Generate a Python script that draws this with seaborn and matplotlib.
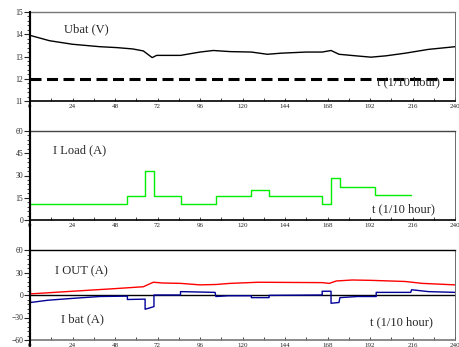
import matplotlib
matplotlib.use("Agg")
import matplotlib.pyplot as plt
from matplotlib.lines import Line2D
from matplotlib.ticker import MultipleLocator
import seaborn as sns
import pandas as pd

sns.set_style("ticks")
plt.rcParams['font.family'] = ['Liberation Serif', 'DejaVu Serif']

# ---- data ----
ubat_t = [0, 11, 24, 39.5, 49, 58, 64, 69, 71.5, 85, 96, 103.5, 113, 125, 134, 142,
          156, 165, 170, 174.5, 184, 192.5, 201, 212, 225, 240]
ubat_v = [13.95, 13.71, 13.55, 13.44, 13.40, 13.34, 13.25, 12.95, 13.05, 13.05, 13.2,
          13.27, 13.22, 13.2, 13.1, 13.15, 13.2, 13.2, 13.27, 13.1, 13.03, 12.97,
          13.03, 13.15, 13.32, 13.44]
ubat_min = 12

load_t = [0, 55, 65, 70, 85, 105, 125, 135, 165, 170, 175, 195, 215]
load_v = [11, 16, 33, 16, 11, 16, 20, 16, 11, 28, 22, 17, 17]

iout_t = [0, 0.3, 24, 48, 64, 69.6, 75, 85, 96, 105, 113, 129, 165, 169, 173, 182,
          193, 212, 221.5, 240]
iout_v = [20, 1.5, 5, 8.5, 11, 17, 16, 15.5, 13.5, 14, 15.5, 17, 16.5, 15.5, 18.7,
          20, 19.5, 18, 15.5, 13.5]

ibat_t = [0, 0.3, 10, 24, 39.5, 55, 55, 65, 65, 70, 70, 85, 85, 104.5, 105, 112, 125,
          125, 135, 135, 165, 165, 170, 170, 174.5, 175, 185, 195.5, 195.5, 215,
          215.5, 225, 240]
ibat_v = [0, -10, -7, -4.5, -2, -1.5, -6, -5.5, -19, -15.5, 0, 0, 4.5, 3.5, -2, -1,
          -1, -3.5, -3.5, -0.5, 0, 5, 5, -11, -10, -3.5, -2, -2, 3.5, 3.5, 7, 4.5, 3.5]

x_ticks = [0, 24, 48, 72, 96, 120, 144, 168, 192, 216, 240]

# ---- figure ----
W, H = 459, 347
fig = plt.figure(figsize=(W / 100, H / 100), dpi=100)

def axes_px(top, bottom, left=30, right=455):
    return fig.add_axes([left / W, 1 - bottom / H, (right - left) / W, (bottom - top) / H])

ax1 = axes_px(12, 101)
ax2 = axes_px(131, 220)
ax3 = axes_px(250, 340)

# panel 1
sns.lineplot(x=ubat_t, y=ubat_v, ax=ax1, color='black', lw=1.0, estimator=None, sort=False)
ax1.axhline(ubat_min, color='black', lw=2.2, dashes=(3.6, 1.8))
ax1.set_ylim(11, 15)
ax1.yaxis.set_major_locator(MultipleLocator(1))
ax1.yaxis.set_minor_locator(MultipleLocator(0.2))
ax1.text(19, 14.24, 'Ubat (V)', fontsize=9, va='center')
ax1.text(196, 11.85, 't (1/10 hour)', fontsize=9, va='center')

# panel 2
sns.lineplot(x=load_t, y=load_v, ax=ax2, color='#00ee00', lw=1.0, estimator=None,
             sort=False, drawstyle='steps-post')
ax2.set_ylim(0, 60)
ax2.yaxis.set_major_locator(MultipleLocator(15))
ax2.yaxis.set_minor_locator(MultipleLocator(3))
ax2.text(13, 47, 'I Load (A)', fontsize=9, va='center')
ax2.text(193, 7.5, 't (1/10 hour)', fontsize=9, va='center')

# panel 3
ax3.axhline(0, color='black', lw=1.0, zorder=1)
sns.lineplot(x=iout_t, y=iout_v, ax=ax3, color='#ff0000', lw=1.0, estimator=None, sort=False)
sns.lineplot(x=ibat_t, y=ibat_v, ax=ax3, color='#000099', lw=1.0, estimator=None, sort=False)
ax3.set_ylim(-60, 60)
ax3.yaxis.set_major_locator(MultipleLocator(30))
ax3.yaxis.set_minor_locator(MultipleLocator(6))
ax3.text(14, 32, 'I OUT (A)', fontsize=9, va='center')
ax3.text(17.5, -32, 'I bat (A)', fontsize=9, va='center')
ax3.text(192, -37, 't (1/10 hour)', fontsize=9, va='center')

for ax, topc, botc in [(ax1, '#777777', 'black'), (ax2, '#444444', 'black'), (ax3, 'black', '#777777')]:
    ax.set_xlim(0, 240)
    ax.set_xticks(x_ticks)
    ax.xaxis.set_minor_locator(MultipleLocator(12))
    ax.set_xlabel('')
    ax.set_ylabel('')
    ax.tick_params(axis='x', which='both', direction='in', labelsize=5, length=2,
                   width=0.6, pad=2)
    ax.tick_params(axis='y', which='major', direction='out', labelsize=5.5, length=4,
                   width=0.8, pad=1)
    ax.tick_params(axis='y', which='minor', direction='out', length=2.5, width=0.6)
    ax.spines['top'].set_color(topc)
    ax.spines['top'].set_linewidth(1.0)
    ax.spines['right'].set_color('#555555')
    ax.spines['right'].set_linewidth(0.6)
    ax.spines['bottom'].set_color(botc)
    ax.spines['bottom'].set_linewidth(1.2)
    ax.spines['left'].set_linewidth(1.5)
    ax.grid(False)

# continuous left axis line
fig.add_artist(Line2D([30 / W, 30 / W], [1 - 12 / H, 1 - 346 / H],
                      transform=fig.transFigure, color='black', lw=1.5))

fig.savefig('out.png', dpi=100)
